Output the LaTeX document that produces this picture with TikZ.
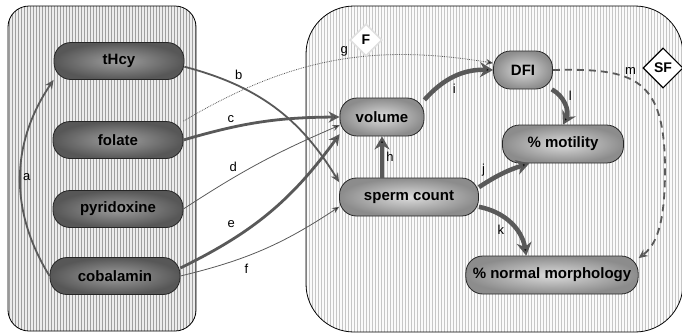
\documentclass[tikz,border=0pt]{standalone}
\usepackage{fontspec}
\setmainfont{Liberation Sans}
\usetikzlibrary{shapes.geometric,patterns,quotes,arrows.meta}

\tikzset{
  panel/.style={draw=black, line width=0.8pt, preaction={fill=#1}, pattern=vertical lines},
  srcbox/.style={draw=black!85, line width=0.8pt, rounded corners=17pt, shading=radial,
    inner color=black!38, outer color=black!66, minimum width=130pt, minimum height=37pt,
    font=\bfseries\fontsize{15}{18}\selectfont},
  semenbox/.style={draw=black!85, line width=0.8pt, rounded corners=17pt, shading=radial,
    inner color=black!14, outer color=black!45, minimum height=38pt, inner xsep=7pt,
    font=\bfseries\fontsize{15}{18}\selectfont},
  flag/.style={diamond, fill=white, inner sep=1pt, font=\bfseries\fontsize{14}{16}\selectfont},
  conn/.style={draw=black!65},
  weak/.style={line width=0.8pt, -{Stealth[length=7pt,width=6pt]}},
  mid/.style={line width=1.8pt, -{Stealth[length=9pt,width=8pt]}},
  strong/.style={line width=2.8pt, -{Stealth[length=11pt,width=11pt]}},
  heavy/.style={line width=4.5pt, -{Stealth[length=13pt,width=15pt]}},
  every edge quotes/.style={auto, font=\fontsize{13}{15}\selectfont, inner sep=2pt, text=black}
}

\begin{document}
\begin{tikzpicture}[x=1pt,y=1pt]
\useasboundingbox (0,0) rectangle (682,-333);
% the two groups
\draw[panel=gray!15, pattern color=gray!75, rounded corners=21pt] (8,-6) rectangle (196,-331);
\draw[panel=gray!4, pattern color=gray!45, rounded corners=48pt] (306,-6) rectangle (683,-332);

% vitamins and tHcy
\node[srcbox] (thcy) at (119,-61) {tHcy};
\node[srcbox] (fol)  at (118,-140) {folate};
\node[srcbox] (pyr)  at (118,-209) {pyridoxine};
\node[srcbox] (cob)  at (115,-276) {cobalamin};

% semen parameters
\node[semenbox, minimum width=84pt]  (vol)   at (382,-117) {volume};
\node[semenbox, minimum width=59pt]  (dfi)   at (523,-70)  {DFI};
\node[semenbox, minimum width=121pt] (mot)   at (563,-144) {\% motility};
\node[semenbox, minimum width=139pt] (sc)    at (409,-197) {sperm count};
\node[semenbox]                      (morph) at (552,-275) {\% normal morphology};

\path[conn]
  (cob.west)  edge[mid, bend left=33, "a"'] (thcy.south west)
  (thcy.-5)   edge[mid, bend left=22, "b" {pos=.24}] (sc.168)
  (fol.north east) edge[weak, densely dotted, bend left=20, "g" {pos=.56}] (dfi.167)
  (fol.east)  edge[strong, bend left=8, "c" {pos=.34}] (vol.west)
  (pyr.east)  edge[weak, bend left=5, "d" {pos=.36}] (vol.191)
  (cob.7)     edge[strong, bend right=14, "e" {pos=.32, inner sep=5pt}] (vol.202)
  (cob.east)  edge[weak, bend right=10, "f"' {pos=.34, inner sep=5pt}] (sc.188)
  (vol|-sc.north) edge[heavy, "h"'] (vol.south)
  (vol.22)    edge[heavy, bend left=25, "i"' {pos=.4}] (dfi.west)
  (dfi.-34)   edge[heavy, bend left=45, "l"] (mot.north)
  (sc.8)      edge[heavy, bend left=8, "j" {pos=.2}] (mot.210)
  (sc.-8)     edge[heavy, bend left=35, "k"' {pos=.45}] (morph.143);

\draw[conn, line width=1.8pt, dash pattern=on 7pt off 5pt, -{Stealth[length=9pt,width=8pt]}]
  (dfi.east) .. controls (635,-68) and (665,-78) .. (665,-170)
  node[pos=.42, above, text=black, font=\fontsize{13}{15}\selectfont] {m}
  .. controls (665,-225) and (656,-245) .. (morph.11);

% factors
\node[flag, draw=gray!25, line width=1.6pt, minimum size=32pt] (ffac)  at (366,-40) {F};
\node[flag, draw=black, line width=1.1pt, minimum size=40pt]   (sffac) at (663,-68) {SF};
\end{tikzpicture}
\end{document}
